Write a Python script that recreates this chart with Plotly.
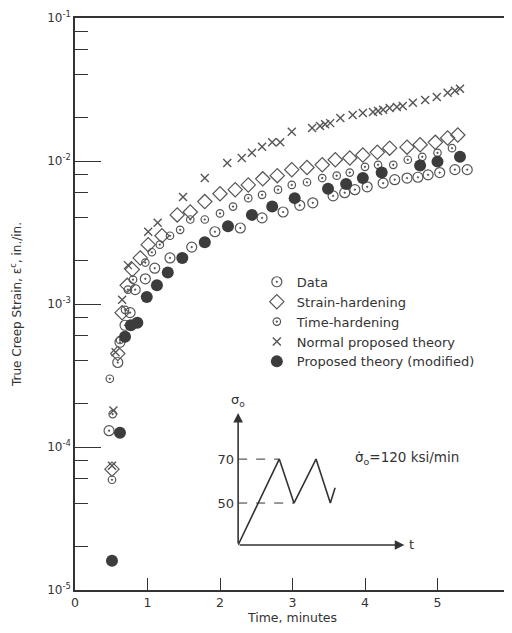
import plotly.graph_objects as go

# ---- data (time in minutes, true creep strain in./in.) ----
data_t = [0.47, 0.59, 0.62, 0.69, 0.76, 0.83, 0.97, 1.10, 1.31, 1.61, 1.93, 2.28, 2.58, 2.87, 3.10,
          3.28, 3.56, 3.72, 3.86, 4.03, 4.25, 4.41, 4.58, 4.73, 4.87, 5.03, 5.24, 5.41]
data_e = [1.3e-4, 3.9e-4, 5.4e-4, 7.1e-4, 8.7e-4, 1.26e-3, 1.5e-3, 1.78e-3, 2.1e-3, 2.5e-3, 3.2e-3,
          3.4e-3, 4.0e-3, 4.4e-3, 4.9e-3, 5.1e-3, 5.7e-3, 6.0e-3, 6.3e-3, 6.6e-3, 7.0e-3, 7.4e-3,
          7.6e-3, 7.7e-3, 8.0e-3, 8.3e-3, 8.7e-3, 8.7e-3]

strain_t = [0.51, 0.59, 0.65, 0.72, 0.79, 0.90, 1.01, 1.20, 1.41, 1.59, 1.79, 2.00, 2.21, 2.39, 2.59,
            2.79, 2.99, 3.20, 3.41, 3.59, 3.79, 3.97, 4.17, 4.34, 4.58, 4.76, 4.97, 5.14, 5.28]
strain_e = [7.0e-5, 4.5e-4, 8.7e-4, 1.35e-3, 1.74e-3, 2.1e-3, 2.6e-3, 3.0e-3, 4.2e-3, 4.4e-3, 5.2e-3,
            5.9e-3, 6.3e-3, 6.8e-3, 7.5e-3, 7.9e-3, 8.7e-3, 9.0e-3, 9.4e-3, 1.02e-2, 1.05e-2, 1.1e-2,
            1.15e-2, 1.23e-2, 1.25e-2, 1.3e-2, 1.35e-2, 1.45e-2, 1.52e-2]

time_t = [0.48, 0.51, 0.52, 0.62, 0.69, 0.73, 0.80, 0.97, 1.06, 1.17, 1.31, 1.45, 1.59, 1.79, 2.00,
          2.18, 2.39, 2.58, 2.80, 2.99, 3.20, 3.41, 3.61, 3.79, 4.00, 4.18, 4.39, 4.59, 4.79, 5.00, 5.20]
time_e = [3.0e-4, 5.9e-5, 1.7e-4, 5.6e-4, 9.1e-4, 1.26e-3, 1.48e-3, 1.95e-3, 2.3e-3, 2.6e-3, 3.0e-3,
          3.3e-3, 3.9e-3, 3.9e-3, 4.3e-3, 4.8e-3, 5.5e-3, 5.8e-3, 6.3e-3, 6.8e-3, 7.1e-3, 7.6e-3,
          7.9e-3, 8.3e-3, 9.1e-3, 9.4e-3, 9.4e-3, 1.02e-2, 1.07e-2, 1.14e-2, 1.23e-2]

normal_t = [0.51, 0.53, 0.56, 0.65, 0.73, 1.01, 1.14, 1.49, 1.79, 2.10, 2.30, 2.44, 2.58, 2.72, 2.83,
            2.99, 3.27, 3.38, 3.45, 3.52, 3.66, 3.83, 3.97, 4.11, 4.18, 4.25, 4.34, 4.44, 4.52, 4.66,
            4.83, 4.99, 5.14, 5.24, 5.31]
normal_e = [7.4e-5, 1.8e-4, 4.6e-4, 1.07e-3, 1.87e-3, 3.2e-3, 3.7e-3, 5.6e-3, 7.6e-3, 9.7e-3, 1.05e-2,
            1.14e-2, 1.26e-2, 1.35e-2, 1.35e-2, 1.6e-2, 1.7e-2, 1.76e-2, 1.81e-2, 1.84e-2, 2.0e-2,
            2.1e-2, 2.17e-2, 2.2e-2, 2.24e-2, 2.28e-2, 2.35e-2, 2.39e-2, 2.42e-2, 2.55e-2, 2.67e-2,
            2.8e-2, 3.0e-2, 3.1e-2, 3.2e-2]

mod_t = [0.51, 0.62, 0.69, 0.77, 0.86, 0.99, 1.13, 1.28, 1.48, 1.79, 2.11, 2.44, 2.72, 3.03, 3.49,
         3.74, 3.97, 4.23, 4.76, 5.00, 5.31]
mod_e = [1.6e-5, 1.26e-4, 5.9e-4, 7.1e-4, 7.4e-4, 1.12e-3, 1.35e-3, 1.66e-3, 2.1e-3, 2.7e-3, 3.5e-3,
         4.2e-3, 4.8e-3, 5.5e-3, 6.4e-3, 6.9e-3, 7.6e-3, 8.3e-3, 9.3e-3, 9.9e-3, 1.07e-2]

# inset (schematic loading history)
inset_t = [0.0, 0.95, 1.29, 1.80, 2.13, 2.24]
inset_s = [30.9, 70, 50, 70, 50, 57]
ref70_t = [0.0, 0.95]
ref50_t = [0.0, 1.29]

ytick_vals = [1e-5, 1e-4, 1e-3, 1e-2, 1e-1]
ytick_text = ["10<sup>-5</sup>", "10<sup>-4</sup>", "10<sup>-3</sup>", "10<sup>-2</sup>", "10<sup>-1</sup>"]
yminor_vals = [m * d for d in [1e-5, 1e-4, 1e-3, 1e-2] for m in (2, 4, 6, 8)]

FONT = "DejaVu Sans"
INK = "#333333"
MK = "#555555"

fig = go.Figure()

fig.add_trace(go.Scatter(x=data_t, y=data_e, mode="markers", name="Data",
                         marker=dict(symbol="circle-open-dot", size=10, color=MK, line=dict(width=1.2, color=MK))))
fig.add_trace(go.Scatter(x=strain_t, y=strain_e, mode="markers", name="Strain-hardening",
                         marker=dict(symbol="diamond-open", size=11, color=MK, line=dict(width=1.2, color=MK))))
fig.add_trace(go.Scatter(x=time_t, y=time_e, mode="markers", name="Time-hardening",
                         marker=dict(symbol="circle-open-dot", size=7.5, color=MK, line=dict(width=1.2, color=MK))))
fig.add_trace(go.Scatter(x=normal_t, y=normal_e, mode="markers", name="Normal proposed theory",
                         marker=dict(symbol="x-thin-open", size=8, color=MK, line=dict(width=1.4, color=MK))))
fig.add_trace(go.Scatter(x=mod_t, y=mod_e, mode="markers", name="Proposed theory (modified)",
                         marker=dict(symbol="circle", size=12, color="#3c3c3c", line=dict(width=0))))

# inset traces
fig.add_trace(go.Scatter(x=inset_t, y=inset_s, mode="lines", xaxis="x2", yaxis="y2", showlegend=False,
                         line=dict(color=INK, width=1.6)))
fig.add_trace(go.Scatter(x=ref70_t, y=[70, 70], mode="lines", xaxis="x2", yaxis="y2", showlegend=False,
                         line=dict(color=INK, width=1, dash="dash")))
fig.add_trace(go.Scatter(x=ref50_t, y=[50, 50], mode="lines", xaxis="x2", yaxis="y2", showlegend=False,
                         line=dict(color=INK, width=1, dash="dash")))

fig.update_layout(
    width=504, height=625,
    margin=dict(l=67, r=2, t=10, b=43),
    paper_bgcolor="white", plot_bgcolor="white",
    font=dict(family=FONT, size=12, color=INK),
    showlegend=True,
    legend=dict(x=0.418, y=0.565, xanchor="left", yanchor="top", bgcolor="rgba(0,0,0,0)",
                font=dict(family=FONT, size=13, color=INK), tracegroupgap=0),
    xaxis=dict(range=[0, 6], tickvals=[0, 1, 2, 3, 4, 5, 6], ticktext=["0", "1", "2", "3", "4", "5", "6"],
               ticks="inside", ticklen=12, tickwidth=1.2, tickcolor=INK, automargin=False,
               ticklabeloverflow="allow",
               showline=True, linecolor=INK, linewidth=1.5, mirror=True, showgrid=False, zeroline=False,
               title=dict(text="Time, minutes", font=dict(size=12.5), standoff=4),
               tickfont=dict(size=12.5)),
    yaxis=dict(type="log", range=[-5, -1], tickvals=ytick_vals, ticktext=ytick_text,
               ticks="inside", ticklen=26, tickwidth=1.2, tickcolor=INK, automargin=False,
               minor=dict(tickvals=yminor_vals, ticks="inside", ticklen=13, tickwidth=1.2, tickcolor=INK, showgrid=False),
               showline=True, linecolor=INK, linewidth=1.5, mirror=True, showgrid=False, zeroline=False,
               title=dict(text="True Creep Strain, \u03b5<sup>c</sup>, in./in.", font=dict(size=12), standoff=24),
               tickfont=dict(size=12)),
    xaxis2=dict(domain=[0.375, 0.785], range=[0, 4.12], anchor="y2", visible=False, fixedrange=True),
    yaxis2=dict(domain=[0.0787, 0.344], range=[30.9, 100], anchor="x2", showgrid=False, zeroline=False,
                showline=False, tickvals=[50, 70], ticktext=["50", "70"], ticks="", tickfont=dict(size=13),
                ticklabelstandoff=3, automargin=False),
)

# inset axes arrows
fig.add_annotation(x=0, y=91, ax=0, ay=30.9, xref="x2", yref="y2", axref="x2", ayref="y2",
                   text="", showarrow=True, arrowhead=2, arrowsize=1.2, arrowwidth=1.6, arrowcolor=INK)
fig.add_annotation(x=3.84, y=30.9, ax=0, ay=30.9, xref="x2", yref="y2", axref="x2", ayref="y2",
                   text="", showarrow=True, arrowhead=2, arrowsize=1.2, arrowwidth=1.6, arrowcolor=INK)
fig.add_annotation(x=0, y=92, xref="x2", yref="y2", text="\u03c3<sub>o</sub>", showarrow=False,
                   yanchor="bottom", font=dict(size=13, color=INK))
fig.add_annotation(x=3.9, y=30.9, xref="x2", yref="y2", text="t", showarrow=False,
                   xanchor="left", font=dict(size=13, color=INK))
fig.add_annotation(x=0.64, y=0.231, xref="paper", yref="paper", xanchor="left", yanchor="middle",
                   text="\u03c3\u0307<sub>o</sub>=120 ksi/min", showarrow=False, font=dict(size=13.5, color=INK))

fig.write_html("out.html")
